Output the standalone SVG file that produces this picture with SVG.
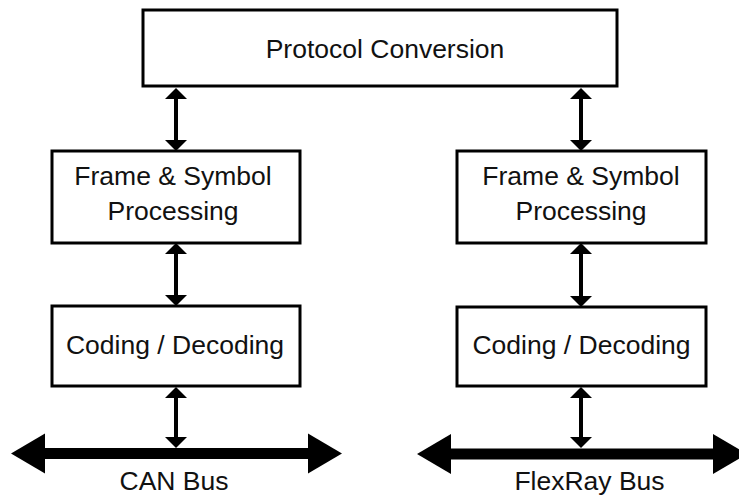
<svg xmlns="http://www.w3.org/2000/svg" width="739" height="495" viewBox="0 0 739 495">
  <style>
    .box { fill: #ffffff; stroke: #000000; stroke-width: 3; }
    .lbl { font-family: "Liberation Sans", Arial, sans-serif; font-size: 26.5px; fill: #111111; text-anchor: middle; }
    .link { stroke: #000000; stroke-width: 4; fill: none; marker-start: url(#head); marker-end: url(#head); }
    .bus { stroke: #000000; stroke-width: 11; fill: none; marker-start: url(#bushead); marker-end: url(#bushead); }
  </style>
  <defs>
    <marker id="head" markerUnits="userSpaceOnUse" viewBox="0 -11 11 22" markerWidth="11" markerHeight="22" refX="0" refY="0" orient="auto-start-reverse" overflow="visible">
      <path d="M0,-11 L11,0 L0,11 Z" fill="#000000"/>
    </marker>
    <marker id="bushead" markerUnits="userSpaceOnUse" viewBox="0 -20 34 40" markerWidth="34" markerHeight="40" refX="0" refY="0" orient="auto-start-reverse" overflow="visible">
      <path d="M0,-20 L34,0 L0,20 Z" fill="#000000"/>
    </marker>
  </defs>

  <g id="protocol-conversion">
    <rect class="box" x="143" y="10" width="474" height="76"/>
    <text class="lbl" x="385" y="58">Protocol Conversion</text>
  </g>

  <g id="frame-left">
    <rect class="box" x="52" y="151" width="248" height="92"/>
    <text class="lbl" x="173" y="185">Frame &amp; Symbol</text>
    <text class="lbl" x="173" y="220">Processing</text>
  </g>

  <g id="frame-right">
    <rect class="box" x="457" y="151" width="249" height="92"/>
    <text class="lbl" x="581" y="185">Frame &amp; Symbol</text>
    <text class="lbl" x="581" y="220">Processing</text>
  </g>

  <g id="coding-left">
    <rect class="box" x="52" y="306" width="248" height="80"/>
    <text class="lbl" x="175" y="354">Coding / Decoding</text>
  </g>

  <g id="coding-right">
    <rect class="box" x="457" y="307" width="249" height="79"/>
    <text class="lbl" x="581.5" y="354">Coding / Decoding</text>
  </g>

  <g id="can-bus">
    <line class="bus" x1="45" y1="453.5" x2="308" y2="453.5"/>
    <text class="lbl" x="174" y="490">CAN Bus</text>
  </g>

  <g id="flexray-bus">
    <line class="bus" x1="451" y1="454" x2="713" y2="454"/>
    <text class="lbl" x="589.5" y="490">FlexRay Bus</text>
  </g>

  <g id="connectors">
    <line class="link" x1="176" y1="99" x2="176" y2="140"/>
    <line class="link" x1="581" y1="99" x2="581" y2="140"/>
    <line class="link" x1="176" y1="254" x2="176" y2="295"/>
    <line class="link" x1="581" y1="254" x2="581" y2="296"/>
    <line class="link" x1="176" y1="398" x2="176" y2="437"/>
    <line class="link" x1="581" y1="398" x2="581" y2="437"/>
  </g>
</svg>
